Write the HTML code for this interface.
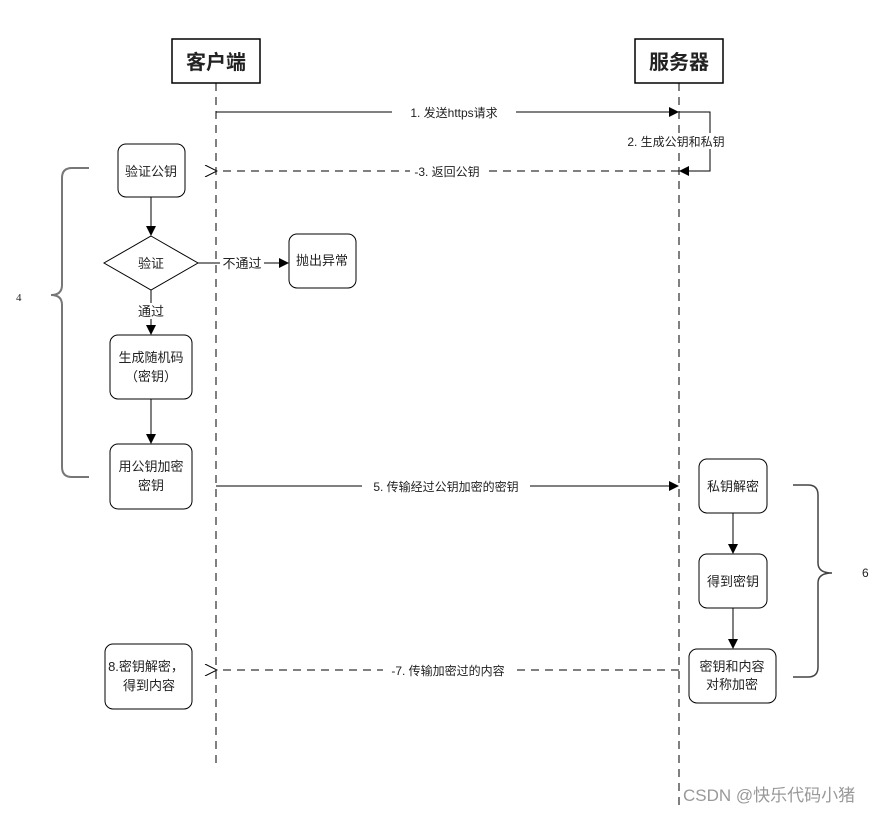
<!DOCTYPE html>
<html><head><meta charset="utf-8"><style>
html,body{margin:0;padding:0;background:#fff;}
svg text{font-family:"Liberation Sans","Noto Sans CJK SC",sans-serif;fill:#222;}
</style></head><body>
<svg width="887" height="810" viewBox="0 0 887 810" xmlns="http://www.w3.org/2000/svg">
<defs>
<marker id="a" markerWidth="10" markerHeight="10" refX="9" refY="5" orient="auto" markerUnits="userSpaceOnUse"><path d="M0,0 L10,5 L0,10 z" fill="#000"/></marker>
<marker id="o" markerWidth="14" markerHeight="12" refX="1" refY="6" orient="auto" markerUnits="userSpaceOnUse"><path d="M13,0 L1,6 L13,12" fill="none" stroke="#000"/></marker>
</defs>
<!-- actors -->
<rect x="172" y="39" width="88" height="44" fill="#fff" stroke="#000" stroke-width="1.5"/>
<text x="216" y="69" font-size="20" font-weight="bold" text-anchor="middle">客户端</text>
<rect x="635" y="39" width="88" height="44" fill="#fff" stroke="#000" stroke-width="1.5"/>
<text x="679" y="69" font-size="20" font-weight="bold" text-anchor="middle">服务器</text>
<!-- lifelines -->
<line x1="216" y1="83" x2="216" y2="767" stroke="#000" stroke-dasharray="8,6"/>
<line x1="679" y1="83" x2="679" y2="810" stroke="#000" stroke-dasharray="8,6"/>
<!-- msg 1 -->
<line x1="216" y1="112" x2="678" y2="112" stroke="#000" marker-end="url(#a)"/>
<rect x="392" y="104" width="124" height="16" fill="#fff"/>
<text x="454" y="117" font-size="12" text-anchor="middle">1. 发送https请求</text>
<!-- self loop 2 -->
<polyline points="679,112 710,112 710,171 680,171" fill="none" stroke="#000" marker-end="url(#a)"/>
<rect x="620" y="133" width="112" height="16" fill="#fff"/>
<text x="676" y="146" font-size="12" text-anchor="middle">2. 生成公钥和私钥</text>
<!-- msg 3 -->
<line x1="679" y1="171" x2="217" y2="171" stroke="#000" stroke-dasharray="8,6" marker-end="url(#o)"/>
<rect x="410" y="163" width="74" height="16" fill="#fff"/>
<text x="447" y="176" font-size="12" text-anchor="middle">-3. 返回公钥</text>
<!-- client flow -->
<rect x="118" y="144" width="67" height="53" rx="8" fill="#fff" stroke="#000"/>
<text x="151" y="176" font-size="13" text-anchor="middle">验证公钥</text>
<line x1="151" y1="197" x2="151" y2="235" stroke="#000" marker-end="url(#a)"/>
<polygon points="151,236 198,263 151,290 104,263" fill="#fff" stroke="#000"/>
<text x="151" y="268" font-size="13" text-anchor="middle">验证</text>
<line x1="198" y1="263" x2="288" y2="263" stroke="#000" marker-end="url(#a)"/>
<rect x="220" y="255" width="44" height="16" fill="#fff"/>
<text x="242" y="268" font-size="13" text-anchor="middle">不通过</text>
<rect x="289" y="234" width="67" height="54" rx="8" fill="#fff" stroke="#000"/>
<text x="322" y="265" font-size="13" text-anchor="middle">抛出异常</text>
<line x1="151" y1="290" x2="151" y2="334" stroke="#000" marker-end="url(#a)"/>
<rect x="136" y="303" width="30" height="16" fill="#fff"/>
<text x="151" y="316" font-size="13" text-anchor="middle">通过</text>
<rect x="110" y="335" width="82" height="64" rx="8" fill="#fff" stroke="#000"/>
<text x="151" y="362" font-size="13" text-anchor="middle">生成随机码</text>
<text x="151" y="381" font-size="13" text-anchor="middle">（密钥）</text>
<line x1="151" y1="399" x2="151" y2="443" stroke="#000" marker-end="url(#a)"/>
<rect x="110" y="444" width="82" height="65" rx="8" fill="#fff" stroke="#000"/>
<text x="151" y="471" font-size="13" text-anchor="middle">用公钥加密</text>
<text x="151" y="490" font-size="13" text-anchor="middle">密钥</text>
<!-- brace 4 -->
<path d="M89,168 L72,168 Q62,168 62,178 L62,285 Q62,295 51,295 Q62,295 62,305 L62,467 Q62,477 72,477 L89,477" fill="none" stroke="#777" stroke-width="2"/>
<text x="16" y="301" font-size="11" font-family="Liberation Serif" style="font-family:'Liberation Serif',serif">4</text>
<!-- msg 5 -->
<line x1="216" y1="486" x2="678" y2="486" stroke="#000" marker-end="url(#a)"/>
<rect x="362" y="478" width="168" height="16" fill="#fff"/>
<text x="446" y="491" font-size="12" text-anchor="middle">5. 传输经过公钥加密的密钥</text>
<!-- server flow -->
<rect x="699" y="459" width="68" height="54" rx="8" fill="#fff" stroke="#000"/>
<text x="733" y="491" font-size="13" text-anchor="middle">私钥解密</text>
<line x1="733" y1="513" x2="733" y2="553" stroke="#000" marker-end="url(#a)"/>
<rect x="699" y="554" width="68" height="54" rx="8" fill="#fff" stroke="#000"/>
<text x="733" y="586" font-size="13" text-anchor="middle">得到密钥</text>
<line x1="733" y1="608" x2="733" y2="648" stroke="#000" marker-end="url(#a)"/>
<rect x="689" y="649" width="87" height="54" rx="8" fill="#fff" stroke="#000"/>
<text x="732" y="671" font-size="13" text-anchor="middle">密钥和内容</text>
<text x="732" y="689" font-size="13" text-anchor="middle">对称加密</text>
<!-- brace 6 -->
<path d="M793,485 L808,485 Q818,485 818,495 L818,563 Q818,573 832,573 Q818,573 818,583 L818,667 Q818,677 808,677 L793,677" fill="none" stroke="#444" stroke-width="1.5"/>
<text x="862" y="577" font-size="12">6</text>
<!-- msg 7 -->
<line x1="679" y1="670" x2="217" y2="670" stroke="#000" stroke-dasharray="8,6" marker-end="url(#o)"/>
<rect x="383" y="662" width="130" height="16" fill="#fff"/>
<text x="448" y="675" font-size="12" text-anchor="middle">-7. 传输加密过的内容</text>
<!-- box 8 -->
<rect x="105" y="644" width="87" height="65" rx="8" fill="#fff" stroke="#000"/>
<text x="146" y="671" font-size="13" text-anchor="middle">8.密钥解密，</text>
<text x="149" y="690" font-size="13" text-anchor="middle">得到内容</text>
<!-- watermark -->
<text x="683" y="801" font-size="17" style="fill:#999">CSDN @快乐代码小猪</text>
</svg>
</body></html>
